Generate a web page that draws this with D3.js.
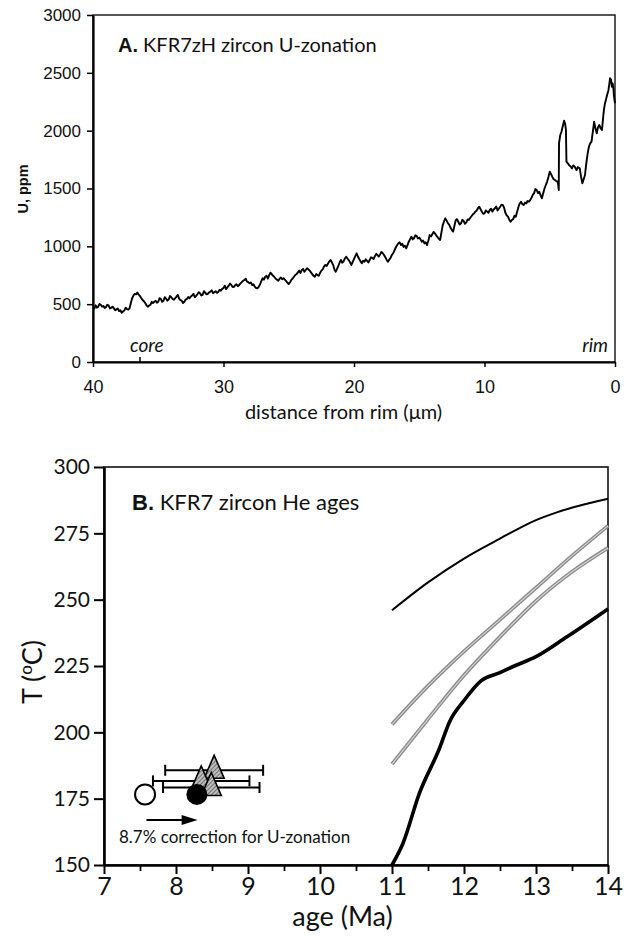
<!DOCTYPE html>
<html><head><meta charset="utf-8">
<script src="https://cdn.jsdelivr.net/npm/d3@7"></script>
<style>
body{margin:0;background:#fff;}
svg{display:block;}
</style></head><body>
<svg id="chart" width="629" height="937"></svg>
<script>
// ---------- Panel A: U concentration profile, core to rim ----------
// [distance from rim (µm), U (ppm)]
const uProfile = [
[40.0,473],[39.9,462],[39.8,490],[39.7,470],[39.6,478],[39.5,502],[39.4,495],[39.3,478],[39.2,484],[39.1,466],
[39.0,475],[38.9,495],[38.8,488],[38.7,463],[38.6,470],[38.5,478],[38.4,464],[38.3,448],[38.2,455],[38.1,462],
[38.0,440],[37.9,447],[37.8,426],[37.7,436],[37.6,445],[37.5,470],[37.4,458],[37.3,452],[37.2,464],[37.1,510],
[37.0,551],[36.9,575],[36.8,590],[36.7,585],[36.6,600],[36.5,582],[36.4,570],[36.3,552],[36.2,536],[36.1,525],
[36.0,510],[35.9,490],[35.8,478],[35.7,488],[35.6,495],[35.5,520],[35.4,510],[35.3,522],[35.2,530],[35.1,512],
[35.0,521],[34.9,552],[34.8,545],[34.7,520],[34.6,530],[34.5,560],[34.4,548],[34.3,530],[34.2,542],[34.1,570],
[34.0,560],[33.9,545],[33.8,538],[33.7,552],[33.6,565],[33.5,580],[33.4,548],[33.3,535],[33.2,530],[33.1,510],
[33.0,521],[32.9,540],[32.8,545],[32.7,562],[32.6,551],[32.5,566],[32.4,575],[32.3,590],[32.2,560],[32.1,572],
[32.0,585],[31.9,604],[31.8,594],[31.7,575],[31.6,580],[31.5,612],[31.4,600],[31.3,585],[31.2,590],[31.1,602],
[31.0,608],[30.9,620],[30.8,595],[30.7,604],[30.6,612],[30.5,598],[30.4,605],[30.3,625],[30.2,617],[30.1,632],
[30.0,640],[29.9,660],[29.8,630],[29.7,645],[29.6,660],[29.5,678],[29.4,666],[29.3,648],[29.2,650],[29.1,665],
[29.0,672],[28.9,655],[28.8,666],[28.7,680],[28.6,690],[28.5,702],[28.4,709],[28.3,720],[28.2,695],[28.1,690],
[28.0,680],[27.9,688],[27.8,665],[27.7,672],[27.6,650],[27.5,640],[27.4,637],[27.3,650],[27.2,670],[27.1,700],
[27.0,724],[26.9,712],[26.8,737],[26.7,745],[26.6,720],[26.5,750],[26.4,772],[26.3,760],[26.2,745],[26.1,735],
[26.0,720],[25.9,712],[25.8,703],[25.7,720],[25.6,730],[25.5,715],[25.4,724],[25.3,712],[25.2,700],[25.1,685],
[25.0,674],[24.9,690],[24.8,710],[24.7,722],[24.6,737],[24.5,752],[24.4,760],[24.3,775],[24.2,790],[24.1,770],
[24.0,795],[23.9,805],[23.8,780],[23.7,795],[23.6,810],[23.5,802],[23.4,790],[23.3,775],[23.2,760],[23.1,745],
[23.0,737],[22.9,760],[22.8,752],[22.7,745],[22.6,770],[22.5,790],[22.4,800],[22.3,825],[22.2,839],[22.1,830],
[22.0,850],[21.9,868],[21.8,882],[21.7,862],[21.6,840],[21.5,800],[21.4,781],[21.3,805],[21.2,830],[21.1,860],
[21.0,882],[20.9,858],[20.8,870],[20.7,895],[20.6,910],[20.5,895],[20.4,880],[20.3,862],[20.2,839],[20.1,865],
[20.0,890],[19.9,915],[19.8,940],[19.7,912],[19.6,890],[19.5,870],[19.4,853],[19.3,875],[19.2,867],[19.1,888],
[19.0,875],[18.9,860],[18.8,882],[18.7,905],[18.6,900],[18.5,890],[18.4,915],[18.3,935],[18.2,925],[18.1,912],
[18.0,930],[17.9,952],[17.8,940],[17.7,925],[17.6,905],[17.5,885],[17.4,867],[17.3,885],[17.2,900],[17.1,925],
[17.0,940],[16.9,965],[16.8,990],[16.7,1010],[16.6,1026],[16.5,1035],[16.4,1011],[16.3,1022],[16.2,995],[16.1,1005],
[16.0,983],[15.9,1010],[15.8,1040],[15.7,1062],[15.6,1083],[15.5,1060],[15.4,1070],[15.3,1095],[15.2,1090],[15.1,1068],
[15.0,1075],[14.9,1060],[14.8,1040],[14.7,1050],[14.6,1025],[14.5,1035],[14.4,1011],[14.3,1050],[14.2,1098],[14.1,1085],
[14.0,1105],[13.9,1125],[13.8,1112],[13.7,1095],[13.6,1080],[13.5,1065],[13.4,1055],[13.3,1120],[13.2,1184],[13.1,1215],
[13.0,1242],[12.9,1222],[12.8,1200],[12.7,1185],[12.6,1160],[12.5,1140],[12.4,1127],[12.3,1180],[12.2,1228],[12.1,1235],
[12.0,1210],[11.9,1188],[11.8,1199],[11.7,1230],[11.6,1220],[11.5,1195],[11.4,1205],[11.3,1232],[11.2,1228],[11.1,1245],
[11.0,1260],[10.9,1275],[10.8,1285],[10.7,1300],[10.6,1310],[10.5,1330],[10.4,1343],[10.3,1320],[10.2,1300],[10.1,1282],
[10.0,1285],[9.9,1310],[9.8,1300],[9.7,1290],[9.6,1314],[9.5,1325],[9.4,1300],[9.3,1318],[9.2,1329],[9.1,1345],
[9.0,1310],[8.9,1325],[8.8,1343],[8.7,1360],[8.6,1357],[8.5,1335],[8.4,1290],[8.3,1268],[8.2,1256],[8.1,1230],
[8.0,1213],[7.9,1228],[7.8,1235],[7.7,1265],[7.6,1256],[7.5,1300],[7.4,1340],[7.3,1370],[7.2,1386],[7.1,1365],
[7.0,1357],[6.9,1378],[6.8,1370],[6.7,1392],[6.6,1386],[6.5,1400],[6.4,1420],[6.3,1445],[6.2,1460],[6.1,1495],
[6.0,1487],[5.9,1460],[5.8,1472],[5.7,1440],[5.6,1415],[5.5,1460],[5.4,1500],[5.3,1530],[5.2,1560],[5.1,1600],
[5.0,1645],[4.9,1625],[4.8,1600],[4.7,1580],[4.6,1573],[4.5,1565],[4.4,1559],[4.35,1530],[4.31,1487],[4.29,1891],
[4.2,1960],[4.1,1991],[4.0,2040],[3.9,2086],[3.82,2060],[3.76,2006],[3.72,1732],[3.6,1715],[3.5,1700],[3.4,1690],
[3.3,1674],[3.2,1700],[3.1,1690],[3.0,1670],[2.95,1660],[2.85,1685],[2.8,1680],[2.7,1674],[2.6,1600],[2.5,1545],
[2.4,1580],[2.3,1617],[2.2,1718],[2.1,1800],[2.0,1861],[1.9,1890],[1.8,1905],[1.7,1990],[1.6,2077],[1.5,2020],
[1.4,1977],[1.3,2030],[1.2,2049],[1.1,2020],[1.0,2006],[0.92,2100],[0.85,2179],[0.78,2230],[0.7,2265],[0.6,2310],
[0.5,2350],[0.44,2400],[0.38,2453],[0.3,2440],[0.24,2380],[0.18,2409],[0.12,2360],[0.08,2300],[0.0,2237]
];
const aXTicks = [40, 30, 20, 10, 0];
const aYTicks = [0, 500, 1000, 1500, 2000, 2500, 3000];
const coreMark = 36.4;

// ---------- Panel B: zircon He ages vs closure temperature ----------
const bXTicks = [7, 8, 9, 10, 11, 12, 13, 14];
const bXMinor = [7.5, 8.5, 9.5, 10.5, 11.5, 12.5, 13.5];
const bYTicks = [150, 175, 200, 225, 250, 275, 300];

const upperAge = [11, 11.5, 12, 12.5, 13, 13.3, 14];
const upperT   = [246, 256.5, 265.5, 273, 280, 283, 288];
const grayAAge = [11, 11.5, 12, 12.5, 13, 13.5, 14];
const grayAT   = [203, 217.5, 230.5, 242.5, 254.5, 266.5, 277.8];
const grayBAge = [11, 11.5, 12, 12.5, 13, 13.5, 14];
const grayBT   = [188, 205, 221.5, 236, 249.5, 260.5, 269.5];
const lowerAge = [11, 11.15, 11.38, 11.66, 11.8, 12, 12.24, 12.5, 12.7, 13, 13.43, 14];
const lowerT   = [150, 158, 177, 194, 204, 212, 219.5, 222.5, 225, 228.5, 236, 246.5];

// single-grain ages (triangles) with 2-sigma bars
const grainAge = [8.53, 8.35, 8.49];
const grainErr = [0.68, 0.67, 0.67];
const grainT   = [185.7, 181.7, 179.2];
// mean age before (open) and after (filled) U-zonation correction
const rawMeanAge = 7.57, corrMeanAge = 8.29, meanT = 176.6;
const arrowFrom = 7.59, arrowTo = 8.3, arrowT = 167;

const svg = d3.select("#chart");
const HUM = "Lato, 'Open Sans', sans-serif";
const ARIAL = "'Liberation Sans', Arial, sans-serif";
const intFmt = d3.format("d");

// ================= Panel A =================
const ax = d3.scaleLinear().domain([40, 0]).range([93, 615]);
const ay = d3.scaleLinear().domain([0, 3000]).range([362, 15]);
const gA = svg.append("g");

gA.append("rect")
  .attr("x", ax(40)).attr("y", ay(3000))
  .attr("width", ax(0) - ax(40)).attr("height", ay(0) - ay(3000))
  .attr("fill", "none").attr("stroke", "#111").attr("stroke-width", 1.4);

const axA = gA.append("g").attr("transform", `translate(0,${ay(0)})`)
  .call(d3.axisBottom(ax).tickValues(aXTicks).tickFormat(intFmt).tickSize(5).tickSizeOuter(0).tickPadding(13));
const ayA = gA.append("g").attr("transform", `translate(${ax(40)},0)`)
  .call(d3.axisLeft(ay).tickValues(aYTicks).tickFormat(intFmt).tickSize(6).tickSizeOuter(0).tickPadding(6));
[axA, ayA].forEach(g => {
  g.select(".domain").attr("stroke", "#000").attr("stroke-width", 2.2);
  g.selectAll(".tick line").attr("stroke", "#000").attr("stroke-width", 1.5);
  g.selectAll("text").attr("fill", "#111").style("font-family", ARIAL).style("font-size", "17px");
});
axA.selectAll("text").style("font-size", "18px");

// core marker tick
gA.append("line")
  .attr("x1", ax(coreMark)).attr("x2", ax(coreMark))
  .attr("y1", ay(0)).attr("y2", ay(0) - 5)
  .attr("stroke", "#000").attr("stroke-width", 1.5);

const uLine = d3.line().x(d => ax(d[0])).y(d => ay(d[1]));
gA.append("path").attr("d", uLine(uProfile))
  .attr("fill", "none").attr("stroke", "#000").attr("stroke-width", 1.9)
  .attr("stroke-linejoin", "round");

const tA = gA.append("text").attr("x", 118).attr("y", 52).attr("fill", "#111");
tA.append("tspan").text("A.").style("font-family", ARIAL).style("font-weight", "bold").style("font-size", "20px");
tA.append("tspan").text(" KFR7zH zircon U-zonation").style("font-family", HUM).style("font-size", "20px");

gA.append("text").attr("x", 130).attr("y", 352).text("core")
  .style("font-family", HUM).style("font-style", "italic").style("font-size", "19px").attr("fill", "#111");
gA.append("text").attr("x", 608).attr("y", 352).attr("text-anchor", "end").text("rim")
  .style("font-family", HUM).style("font-style", "italic").style("font-size", "19px").attr("fill", "#111");

gA.append("text").attr("transform", "translate(28,189) rotate(-90)").attr("text-anchor", "middle")
  .text("U, ppm").style("font-family", ARIAL).style("font-weight", "bold").style("font-size", "14.5px").attr("fill", "#111");

gA.append("text").attr("x", 343.5).attr("y", 419).attr("text-anchor", "middle")
  .text("distance from rim (\u03bcm)").style("font-family", HUM).style("font-size", "20px").attr("fill", "#111");

// ================= Panel B =================
const bx = d3.scaleLinear().domain([7, 14]).range([104, 608]);
const by = d3.scaleLinear().domain([150, 300]).range([865, 467]);
const gB = svg.append("g");

const defs = svg.append("defs");
const pat = defs.append("pattern").attr("id", "stipple")
  .attr("width", 3).attr("height", 3).attr("patternUnits", "userSpaceOnUse")
  .attr("patternTransform", "rotate(45)");
pat.append("rect").attr("width", 3).attr("height", 3).attr("fill", "#bdbdbd");
pat.append("line").attr("x1", 0).attr("y1", 0).attr("x2", 0).attr("y2", 3)
  .attr("stroke", "#4a4a4a").attr("stroke-width", 1.3);

gB.append("rect")
  .attr("x", bx(7)).attr("y", by(300))
  .attr("width", bx(14) - bx(7)).attr("height", by(150) - by(300))
  .attr("fill", "none").attr("stroke", "#111").attr("stroke-width", 1.6);

const axB = gB.append("g").attr("transform", `translate(0,${by(150)})`)
  .call(d3.axisBottom(bx).tickValues(bXTicks).tickFormat(intFmt).tickSize(9).tickSizeOuter(0).tickPadding(3));
gB.append("g").attr("transform", `translate(0,${by(150)})`)
  .call(d3.axisBottom(bx).tickValues(bXMinor).tickSize(6).tickFormat("").tickSizeOuter(0))
  .call(g => g.select(".domain").remove())
  .selectAll(".tick line").attr("stroke", "#000").attr("stroke-width", 1.8);
const ayB = gB.append("g").attr("transform", `translate(${bx(7)},0)`)
  .call(d3.axisLeft(by).tickValues(bYTicks).tickFormat(intFmt).tickSize(10).tickSizeOuter(0).tickPadding(4));
[axB, ayB].forEach(g => {
  g.select(".domain").attr("stroke", "#000").attr("stroke-width", 2.6);
  g.selectAll(".tick line").attr("stroke", "#000").attr("stroke-width", 2);
  g.selectAll("text").attr("fill", "#111").style("font-family", HUM);
});
axB.selectAll("text").style("font-size", "25px");
ayB.selectAll("text").style("font-size", "21px");

const curve = (ages, temps) => d3.line().curve(d3.curveMonotoneX)
  .x(i => bx(ages[i])).y(i => by(temps[i]))(d3.range(ages.length));

gB.append("path").attr("d", curve(upperAge, upperT))
  .attr("fill", "none").attr("stroke", "#000").attr("stroke-width", 2);
[[grayAAge, grayAT], [grayBAge, grayBT]].forEach(([a, t]) => {
  gB.append("path").attr("d", curve(a, t))
    .attr("fill", "none").attr("stroke", "#8a8a8a").attr("stroke-width", 3.8);
  gB.append("path").attr("d", curve(a, t))
    .attr("fill", "none").attr("stroke", "#d6d6d6").attr("stroke-width", 1.1);
});
gB.append("path").attr("d", curve(lowerAge, lowerT))
  .attr("fill", "none").attr("stroke", "#000").attr("stroke-width", 3.6);

// error bars
grainAge.forEach((a, i) => {
  const y = by(grainT[i]), x0 = bx(a - grainErr[i]), x1 = bx(a + grainErr[i]);
  gB.append("line").attr("x1", x0).attr("x2", x1).attr("y1", y).attr("y2", y)
    .attr("stroke", "#000").attr("stroke-width", 2);
  [x0, x1].forEach(x => gB.append("line").attr("x1", x).attr("x2", x)
    .attr("y1", y - 5.5).attr("y2", y + 5.5).attr("stroke", "#000").attr("stroke-width", 2));
});

// triangles
grainAge.forEach((a, i) => {
  const cx = bx(a), cy = by(grainT[i]);
  gB.append("path")
    .attr("d", `M${cx},${cy - 15}L${cx + 10},${cy + 8}L${cx - 10},${cy + 8}Z`)
    .attr("fill", "url(#stipple)").attr("stroke", "#000").attr("stroke-width", 1.6)
    .attr("stroke-linejoin", "miter");
});

// mean ages
gB.append("circle").attr("cx", bx(rawMeanAge)).attr("cy", by(meanT)).attr("r", 10)
  .attr("fill", "#fff").attr("stroke", "#000").attr("stroke-width", 2);
gB.append("circle").attr("cx", bx(corrMeanAge)).attr("cy", by(meanT)).attr("r", 10.5)
  .attr("fill", "#000");

// correction arrow
const ayArrow = by(arrowT), axEnd = bx(arrowTo);
gB.append("line").attr("x1", bx(arrowFrom)).attr("x2", axEnd - 10)
  .attr("y1", ayArrow).attr("y2", ayArrow).attr("stroke", "#000").attr("stroke-width", 2);
gB.append("path")
  .attr("d", `M${axEnd},${ayArrow}L${axEnd - 16},${ayArrow - 5}L${axEnd - 16},${ayArrow + 5}Z`)
  .attr("fill", "#000");

gB.append("text").attr("x", 119).attr("y", 843).text("8.7% correction for U-zonation")
  .style("font-family", HUM).style("font-size", "17px").attr("fill", "#111");

const tB = gB.append("text").attr("x", 132).attr("y", 510).attr("fill", "#111");
tB.append("tspan").text("B.").style("font-family", ARIAL).style("font-weight", "bold").style("font-size", "22px");
tB.append("tspan").text(" KFR7 zircon He ages").style("font-family", HUM).style("font-size", "22px");

const yl = gB.append("text").attr("transform", "translate(42,672) rotate(-90)").attr("text-anchor", "middle")
  .style("font-family", HUM).style("font-size", "27px").attr("fill", "#111");
yl.append("tspan").text("T (");
yl.append("tspan").text("o").attr("dy", -10).style("font-size", "17px");
yl.append("tspan").text("C)").attr("dy", 10);

gB.append("text").attr("x", 342.5).attr("y", 926).attr("text-anchor", "middle")
  .text("age (Ma)").style("font-family", HUM).style("font-size", "27px").attr("fill", "#111");
</script>
</body></html>
